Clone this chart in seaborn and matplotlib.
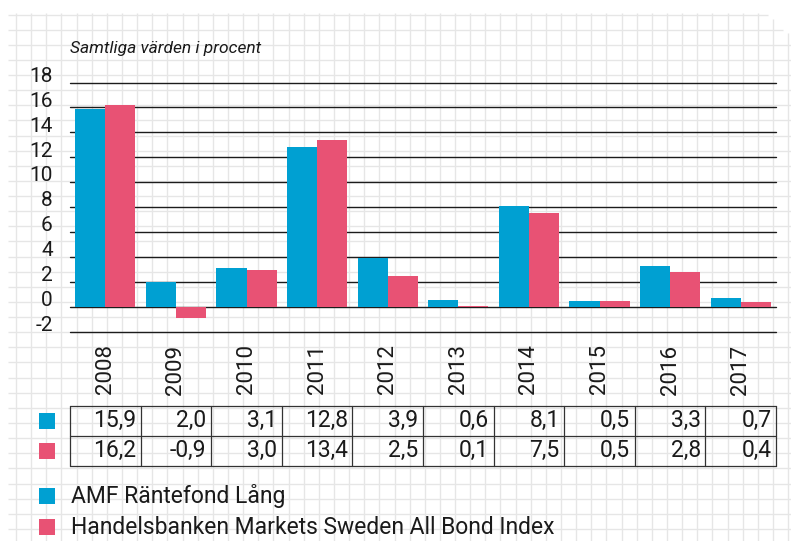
import matplotlib
matplotlib.use('Agg')
import pandas as pd
import matplotlib.pyplot as plt
import seaborn as sns
from matplotlib import font_manager
from matplotlib.patches import Rectangle
from matplotlib.transforms import ScaledTranslation

# Chart data
years = ['2008', '2009', '2010', '2011', '2012', '2013', '2014', '2015', '2016', '2017']
amfValues = [15.9, 2.0, 3.1, 12.8, 3.9, 0.6, 8.1, 0.5, 3.3, 0.7]
indexValues = [16.2, -0.9, 3.0, 13.4, 2.5, 0.1, 7.5, 0.5, 2.8, 0.4]
seriesNames = ['AMF Räntefond Lång', 'Handelsbanken Markets Sweden All Bond Index']
seriesColors = ['#00a0d2', '#e85274']
yTicks = [-2, 0, 2, 4, 6, 8, 10, 12, 14, 16, 18]
subtitle = 'Samtliga värden i procent'

W, H = 791, 541

sns.set_style('white')
installed = {f.name for f in font_manager.fontManager.ttflist}
MAIN = 'Roboto' if 'Roboto' in installed else 'Liberation Sans'
plt.rcParams['font.family'] = [MAIN, 'DejaVu Sans']
plt.rcParams['font.weight'] = 'normal'
TEXT = '#1a1a1a'
LINE = '#1c1c1c'


def fx(px):
    return px / W


def fy(py):
    return 1 - py / H


fig = plt.figure(figsize=(W / 100, H / 100), dpi=100)
fig.patch.set_facecolor('white')

# Graph-paper background (pixel coordinates)
bg = fig.add_axes([0, 0, 1, 1], zorder=0)
bg.set_xlim(0, W)
bg.set_ylim(H, 0)
bg.axis('off')
gridColor = '#e6e6e6'
step = 15.14
for k in range(52):
    x = 16 + k * step
    top = 13
    if k == 50:
        top = 19
    elif k == 51:
        top = 33
    bg.plot([x, x], [top, H], color=gridColor, lw=1.0, solid_capstyle='butt', zorder=1)
for j in range(36):
    y = 14.5 + j * 15.13
    right = W
    if j == 0:
        right = 768
    elif j == 1:
        right = 783
    bg.plot([8, right], [y, y], color=gridColor, lw=1.0, solid_capstyle='butt', zorder=1)

# Main bar chart
ax = fig.add_axes([fx(70), fy(332), 706 / W, (332 - 82.5) / H], zorder=2)
ax.patch.set_alpha(0)
df = pd.DataFrame({
    'year': years * 2,
    'value': amfValues + indexValues,
    'series': [seriesNames[0]] * len(years) + [seriesNames[1]] * len(years),
})
sns.barplot(data=df, x='year', y='value', hue='series', hue_order=seriesNames,
            palette=seriesColors, saturation=1, width=0.85, gap=0,
            edgecolor='none', linewidth=0, legend=False, ax=ax, zorder=3)
ax.set_ylim(-2, 18)
ax.set_xlim(-0.5, len(years) - 0.5)
ax.set_yticks(yTicks)
ax.set_yticklabels([str(t) for t in yTicks], fontsize=15, color=TEXT)
ax.set_axisbelow(True)
ax.yaxis.grid(True, color=LINE, lw=1.0)
ax.xaxis.grid(False)
for gl in ax.get_ygridlines():
    gl.set_clip_on(False)
for side in ['top', 'right', 'bottom', 'left']:
    ax.spines[side].set_visible(False)
ax.tick_params(axis='y', length=0, pad=12.5)
ax.tick_params(axis='x', length=0, pad=9)
ax.set_xticks(range(len(years)))
ax.set_xticklabels(years, rotation=90, fontsize=16, color=TEXT)
ax.set_xlabel('')
ax.set_ylabel('')
shift = ScaledTranslation(0, 6 / 72, fig.dpi_scale_trans)
for lbl in ax.get_yticklabels():
    lbl.set_transform(lbl.get_transform() + shift)

# Value table under the chart
tab = fig.add_axes([fx(70), fy(465.7), 706 / W, 60 / H], zorder=2)
tab.set_xlim(-0.5, len(years) - 0.5)
tab.set_ylim(2, 0)
tab.axis('off')
for r in range(3):
    tab.plot([-0.5, len(years) - 0.5], [r, r], color='#333333', lw=0.9, clip_on=False)
for c in range(len(years) + 1):
    tab.plot([c - 0.5, c - 0.5], [0, 2], color='#333333', lw=0.9, clip_on=False)
for row, vals in enumerate([amfValues, indexValues]):
    for i, v in enumerate(vals):
        tab.text(i + 0.5 - 0.065, row + 0.5, f'{v:.1f}'.replace('.', ','),
                 ha='right', va='center', fontsize=16.5, color=TEXT)

# Colour keys next to the table and the legend
for row, color in enumerate(seriesColors):
    bg.add_patch(Rectangle((39, 413 + row * 30.3), 16, 16, color=color, lw=0, zorder=3))
    bg.add_patch(Rectangle((38.5, 488 + row * 31), 16.5, 16, color=color, lw=0, zorder=3))
    bg.text(71, 496 + row * 31, seriesNames[row], ha='left', va='center',
            fontsize=16.5, color=TEXT, zorder=3)

bg.text(70, 53, subtitle, ha='left', va='baseline', fontsize=12.5,
        style='italic', color=TEXT, zorder=3)

fig.savefig('out.png', dpi=100)
